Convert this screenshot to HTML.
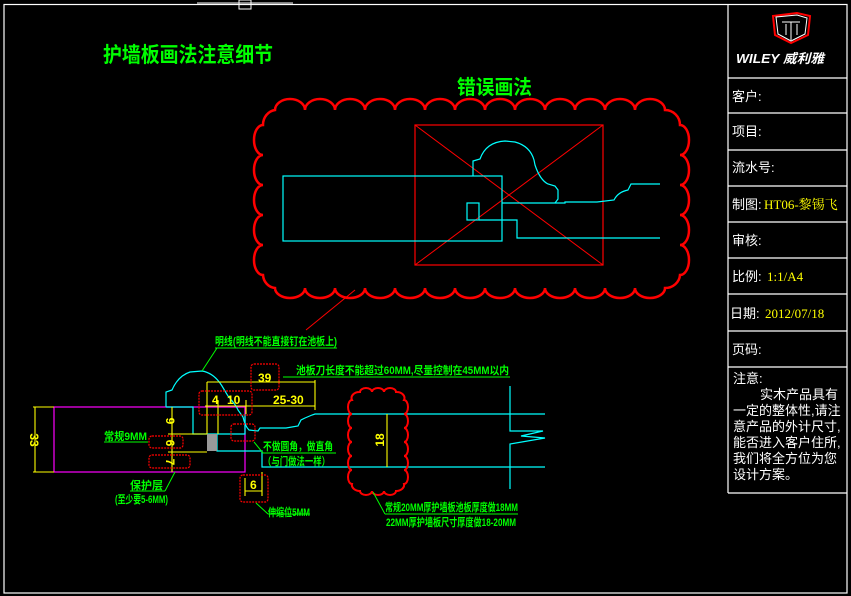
<!DOCTYPE html>
<html><head><meta charset="utf-8"><style>
html,body{margin:0;padding:0;background:#000;}
svg{display:block;}
.g{fill:#00ff00;font-family:"Liberation Sans","Noto Sans CJK SC",sans-serif;font-weight:bold;}
.w{fill:#fff;font-family:"Liberation Sans","Noto Sans CJK SC",sans-serif;font-size:13px;}
.y{fill:#ffff00;font-family:"Liberation Serif","Noto Serif CJK SC",serif;font-size:13px;}
.yd{fill:#ffff00;font-family:"Liberation Sans",sans-serif;font-weight:bold;font-size:12px;}
</style></head><body>
<svg width="851" height="596" viewBox="0 0 851 596" xmlns="http://www.w3.org/2000/svg">
<rect width="851" height="596" fill="#000"/>
<rect x="4" y="4.5" width="843" height="588.5" fill="none" stroke="#fff" stroke-width="1.2"/>
<line x1="197" y1="3" x2="293" y2="3" stroke="#fff"/>
<rect x="239" y="0" width="12" height="9" fill="none" stroke="#fff"/>
<g stroke="#fff" stroke-width="1.2" fill="none">
<line x1="728" y1="4" x2="728" y2="493"/>
<line x1="728" y1="78" x2="847" y2="78"/>
<line x1="728" y1="113" x2="847" y2="113"/>
<line x1="728" y1="150" x2="847" y2="150"/>
<line x1="728" y1="186" x2="847" y2="186"/>
<line x1="728" y1="222" x2="847" y2="222"/>
<line x1="728" y1="258" x2="847" y2="258"/>
<line x1="728" y1="294" x2="847" y2="294"/>
<line x1="728" y1="331" x2="847" y2="331"/>
<line x1="728" y1="367" x2="847" y2="367"/>
<line x1="728" y1="493" x2="847" y2="493"/>
</g>
<path d="M773 16 L797 13 L810 16 L808 35 L791 43 L775 35 Z" fill="none" stroke="#f00" stroke-width="2"/>
<path d="M776 17 L797 15 L807 18 L805 34 L791 41 L778 34 Z" fill="none" stroke="#fff" stroke-width="1"/>
<path d="M782 22 L800 22 M786 24 L786 35 M797 24 L797 35 M791 22 L791 40" stroke="#fff" fill="none"/>
<text x="736" y="63" fill="#fff" font-family="Liberation Sans,Noto Sans CJK SC,sans-serif" font-style="italic" font-weight="bold" font-size="13" textLength="88" lengthAdjust="spacingAndGlyphs">WILEY 威利雅</text>
<text class="w" x="732" y="101">客户:</text>
<text class="w" x="732" y="136">项目:</text>
<text class="w" x="732" y="172">流水号:</text>
<text class="w" x="732" y="209">制图:</text><text class="y" x="764" y="209">HT06-黎锡飞</text>
<text class="w" x="732" y="245">审核:</text>
<text class="w" x="732" y="281">比例:</text><text class="y" x="767" y="281">1:1/A4</text>
<text class="w" x="730" y="318">日期:</text><text class="y" x="765" y="318">2012/07/18</text>
<text class="w" x="732" y="354">页码:</text>
<text class="w" x="733" y="383">注意:</text>
<text class="w" x="760" y="399">实木产品具有</text>
<text class="w" x="733" y="415">一定的整体性,请注</text>
<text class="w" x="733" y="431">意产品的外计尺寸,</text>
<text class="w" x="733" y="447">能否进入客户住所,</text>
<text class="w" x="733" y="463">我们将全方位为您</text>
<text class="w" x="733" y="479">设计方案。</text>
<text class="g" x="103" y="62" font-size="21" textLength="170" lengthAdjust="spacingAndGlyphs">护墙板画法注意细节</text>
<text class="g" x="457" y="94" font-size="20" textLength="75" lengthAdjust="spacingAndGlyphs">错误画法</text>
<path fill="none" stroke="#f00" stroke-width="2.5" d="M275 110
a15 11 0 0 1 30 0 a15 11 0 0 1 30 0 a15 11 0 0 1 30 0 a15 11 0 0 1 30 0 a15 11 0 0 1 30 0 a15 11 0 0 1 30 0 a15 11 0 0 1 30 0 a15 11 0 0 1 30 0 a15 11 0 0 1 30 0 a15 11 0 0 1 30 0 a15 11 0 0 1 30 0 a15 11 0 0 1 30 0 a15 11 0 0 1 30 0
a15 15 0 0 1 15 15
a9 15 0 0 1 0 30 a9 15 0 0 1 0 30 a9 15 0 0 1 0 30 a9 15 0 0 1 0 30 a9 15 0 0 1 0 30
a15 14 0 0 1 -15 13
a15 10 0 0 1 -30 0 a15 10 0 0 1 -30 0 a15 10 0 0 1 -30 0 a15 10 0 0 1 -30 0 a15 10 0 0 1 -30 0 a15 10 0 0 1 -30 0 a15 10 0 0 1 -30 0 a15 10 0 0 1 -30 0 a15 10 0 0 1 -30 0 a15 10 0 0 1 -30 0 a15 10 0 0 1 -30 0 a15 10 0 0 1 -30 0 a15 10 0 0 1 -30 0
a13 14 0 0 1 -12 -13
a9 15 0 0 1 0 -30 a9 15 0 0 1 0 -30 a9 15 0 0 1 0 -30 a9 15 0 0 1 0 -30 a9 15 0 0 1 0 -30
a14 15 0 0 1 12 -15 Z"/>
<rect x="415" y="125" width="188" height="140" fill="none" stroke="#f00" stroke-width="1.2"/>
<line x1="415" y1="125" x2="603" y2="265" stroke="#f00"/>
<line x1="603" y1="125" x2="415" y2="265" stroke="#f00"/>
<g fill="none" stroke="#00ffff" stroke-width="1.2">
<rect x="283" y="176" width="219" height="65"/>
<path d="M473 176 L473 161 L480 159 Q486 142 505 141 L515 142 Q530 146 534 160 L535 165 Q540 180 548 184 L555 186 L558 190 L558 199 L555 203"/>
<path d="M502 203 L565 203 L565 202 L597 202 L614 200 Q618 192 628 190 L631 184 L660 184"/>
<rect x="467" y="203" width="12" height="17"/>
<path d="M479 220 L517 220 L517 238 L660 238"/>
</g>
<line x1="355" y1="290" x2="306" y2="330" stroke="#f00"/>
<rect x="54" y="407" width="191" height="65" fill="none" stroke="#ff00ff" stroke-width="1.2"/>
<g fill="none" stroke="#00ffff" stroke-width="1.2">
<path d="M166 407 L166 392 L172 390 Q178 376 190 372 L202 371 Q214 373 222 386 L228 396 Q236 405 238 410 L243 417 Q245 426 249 430 L258 431 L260 428 L286 428 L298 426 L301 420 L305 418 L312 415 L315 414 L545 414"/>
<path d="M166 407 L193 407 L193 434 L245 434 L245 414"/>
<path d="M217 434 L217 451 L262 451 L262 467 L545 467"/>
<path d="M510 386 L510 431 L543 431 L521 436 L545 438 L510 444 L510 489"/>
</g>
<rect x="207" y="434" width="10" height="17" fill="#999"/>
<g stroke="#ffff00" stroke-width="1.1" fill="none">
<line x1="35" y1="407" x2="35" y2="472"/><line x1="33" y1="407" x2="54" y2="407"/><line x1="33" y1="472" x2="54" y2="472"/>
<line x1="172" y1="407" x2="172" y2="472"/><line x1="168" y1="434" x2="207" y2="434"/><line x1="168" y1="452" x2="207" y2="452"/>
<line x1="205" y1="406" x2="315" y2="406"/>
<line x1="207" y1="382" x2="207" y2="434"/><line x1="218" y1="400" x2="218" y2="434"/><line x1="246" y1="400" x2="246" y2="414"/><line x1="315" y1="380" x2="315" y2="410"/>
<line x1="207" y1="382" x2="315" y2="382"/>
<line x1="387" y1="414" x2="387" y2="467"/>
<line x1="245" y1="491" x2="262" y2="491"/><line x1="245" y1="478" x2="245" y2="496"/><line x1="262" y1="472" x2="262" y2="496"/>
</g>
<text class="yd" transform="translate(30 440) rotate(90)" text-anchor="middle">33</text>
<text class="yd" transform="translate(166 421) rotate(90)" text-anchor="middle">9</text>
<text class="yd" transform="translate(166 443) rotate(90)" text-anchor="middle">6</text>
<text class="yd" transform="translate(166 462) rotate(90)" text-anchor="middle">7</text>
<text class="yd" transform="translate(384 440) rotate(-90)" text-anchor="middle">18</text>
<text class="yd" x="212" y="404">4</text>
<text class="yd" x="227" y="404">10</text>
<text class="yd" x="273" y="404">25-30</text>
<text class="yd" x="258" y="382">39</text>
<text class="yd" x="250" y="489">6</text>
<g fill="none" stroke="#f00" stroke-width="1.2" stroke-dasharray="2 1">
<rect x="199" y="391" width="53" height="24" rx="3"/>
<rect x="251" y="364" width="28" height="26" rx="3"/>
<rect x="231" y="424" width="24" height="17" rx="3"/>
<rect x="149" y="436" width="34" height="12" rx="3"/>
<rect x="149" y="455" width="41" height="13" rx="3"/>
<rect x="240" y="475" width="28" height="27" rx="3"/>
</g>
<path fill="none" stroke="#f00" stroke-width="2" d="M360 392 a6 4 0 0 1 12 0 a6 4 0 0 1 12 0 a6 4 0 0 1 12 0 a8 6 0 0 1 8 8 a4 7 0 0 1 0 14 a4 7 0 0 1 0 14 a4 7 0 0 1 0 14 a4 7 0 0 1 0 14 a4 7 0 0 1 0 14 a4 7 0 0 1 0 14 a8 6 0 0 1 -8 7 a6 4 0 0 1 -12 0 a6 4 0 0 1 -12 0 a6 4 0 0 1 -12 0 a8 6 0 0 1 -8 -7 a4 7 0 0 1 0 -14 a4 7 0 0 1 0 -14 a4 7 0 0 1 0 -14 a4 7 0 0 1 0 -14 a4 7 0 0 1 0 -14 a4 7 0 0 1 0 -14 a8 6 0 0 1 8 -8Z"/>
<g stroke="#00ff00" stroke-width="1" fill="none">
<line x1="215" y1="348" x2="337" y2="348"/><line x1="217" y1="348" x2="202" y2="371"/>
<line x1="283" y1="377" x2="510" y2="377"/>
<line x1="104" y1="442" x2="148" y2="442"/>
<line x1="263" y1="453" x2="336" y2="453"/><line x1="263" y1="453" x2="254" y2="442"/>
<line x1="130" y1="491" x2="165" y2="491"/><line x1="165" y1="491" x2="175" y2="472"/>
<line x1="268" y1="514" x2="310" y2="514"/><line x1="268" y1="514" x2="256" y2="503"/>
<line x1="385" y1="514" x2="518" y2="514"/><line x1="385" y1="514" x2="373" y2="492"/>
</g>
<text class="g" x="215" y="345" font-size="11" textLength="122" lengthAdjust="spacingAndGlyphs">明线(明线不能直接钉在池板上)</text>
<text class="g" x="296" y="374" font-size="11" textLength="213" lengthAdjust="spacingAndGlyphs">池板刀长度不能超过60MM,尽量控制在45MM以内</text>
<text class="g" x="104" y="440" font-size="11" textLength="43" lengthAdjust="spacingAndGlyphs">常规9MM</text>
<text class="g" x="263" y="450" font-size="11" textLength="70" lengthAdjust="spacingAndGlyphs">不做圆角，做直角</text>
<text class="g" x="263" y="465" font-size="11" textLength="67" lengthAdjust="spacingAndGlyphs">（与门做法一样）</text>
<text class="g" x="130" y="489" font-size="11" textLength="33" lengthAdjust="spacingAndGlyphs">保护层</text>
<text class="g" x="115" y="503" font-size="11" textLength="53" lengthAdjust="spacingAndGlyphs">(至少要5-6MM)</text>
<text class="g" x="268" y="516" font-size="11" textLength="42" lengthAdjust="spacingAndGlyphs">伸缩位5MM</text>
<text class="g" x="385" y="511" font-size="11" textLength="133" lengthAdjust="spacingAndGlyphs">常规20MM厚护墙板池板厚度做18MM</text>
<text class="g" x="386" y="526" font-size="11" textLength="130" lengthAdjust="spacingAndGlyphs">22MM厚护墙板尺寸厚度做18-20MM</text>
</svg>
</body></html>
